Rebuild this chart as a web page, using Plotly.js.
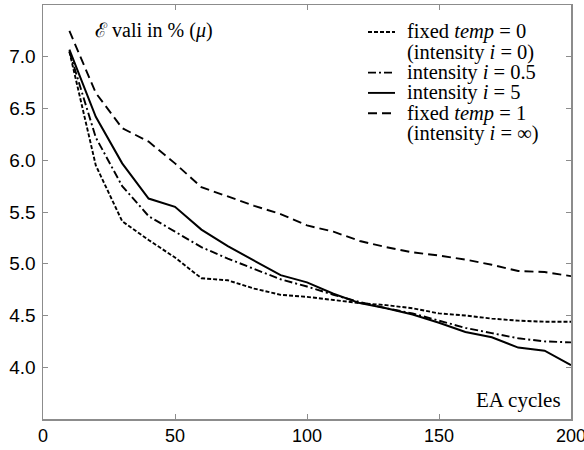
<!DOCTYPE html>
<html><head><meta charset="utf-8">
<script src="https://cdn.plot.ly/plotly-3.0.1.min.js"></script>
<style>html,body{margin:0;padding:0;background:#fff}</style>
</head><body><div id="chart" style="width:584px;height:450px"></div>
<script>
const cycles = [10,20,30,40,50,60,70,80,90,100,110,120,130,140,150,160,170,180,190,200];
const temp0 = [7.05,5.95,5.41,5.23,5.06,4.86,4.84,4.76,4.70,4.68,4.65,4.62,4.60,4.57,4.52,4.50,4.47,4.45,4.44,4.44];
const int05 = [7.05,6.22,5.75,5.46,5.31,5.16,5.05,4.95,4.85,4.78,4.70,4.63,4.57,4.52,4.45,4.38,4.33,4.28,4.25,4.24];
const int5  = [7.07,6.42,5.97,5.63,5.55,5.33,5.17,5.03,4.89,4.82,4.71,4.62,4.57,4.51,4.43,4.34,4.29,4.19,4.16,4.02];
const temp1 = [7.25,6.65,6.31,6.18,5.97,5.74,5.65,5.56,5.48,5.37,5.31,5.22,5.16,5.11,5.08,5.04,4.99,4.93,4.92,4.88];
const seriesNames = ["fixed <i>temp</i> = 0","intensity <i>i</i> = 0.5","intensity <i>i</i> = 5","fixed <i>temp</i> = 1"];
const seriesSub = ["(intensity <i>i</i> = 0)", null, null, "(intensity <i>i</i> = ∞)"];
const dashes = ["4px,2px","8px,3px,2px,3px","solid","9px,5px"];
const xTicks = [0,50,100,150,200];
const yTicks = [4.0,4.5,5.0,5.5,6.0,6.5,7.0];
const yTickText = ["4.0","4.5","5.0","5.5","6.0","6.5","7.0"];
const titleText = "ℰ vali in % (<i>μ</i>)";
const xLabel = "EA cycles";

const ys = [temp0,int05,int5,temp1];
const traces = ys.map((y,i)=>({x:cycles,y:y,type:'scatter',mode:'lines',name:seriesNames[i],
  line:{color:'#000',width:i===2?2:1.9,dash:dashes[i]},showlegend:false,cliponaxis:false}));

const serif = "Liberation Serif, Times New Roman, serif";
const toPx = v => (v-43)/528, toPy = v => (419-v)/414;
const annotations = [
  {xref:'paper',yref:'paper',x:toPx(93),y:toPy(31),xanchor:'left',yanchor:'middle',text:titleText,showarrow:false,font:{family:serif,size:20,color:'#000'}},
  {xref:'paper',yref:'paper',x:toPx(563),y:toPy(400),xanchor:'right',yanchor:'middle',text:xLabel,showarrow:false,font:{family:serif,size:21,color:'#000'}}
];
const shapes = [];
let rowY = 32; const rowH = 20.3;
const lx0 = 368, lx1 = 395, tx = 405;
for (let i=0;i<4;i++){
  shapes.push({type:'line',xref:'paper',yref:'paper',x0:toPx(lx0),x1:toPx(lx1),y0:toPy(rowY),y1:toPy(rowY),
    line:{color:'#000',width:1.9,dash:dashes[i]}});
  annotations.push({xref:'paper',yref:'paper',x:toPx(tx),y:toPy(rowY),xanchor:'left',yanchor:'middle',showarrow:false,
    text:seriesNames[i],font:{family:serif,size:20.5,color:'#000'}});
  rowY += rowH;
  if (seriesSub[i]){
    annotations.push({xref:'paper',yref:'paper',x:toPx(tx),y:toPy(rowY),xanchor:'left',yanchor:'middle',showarrow:false,
      text:seriesSub[i],font:{family:serif,size:20.5,color:'#000'}});
    rowY += rowH;
  }
}

const axisCommon = {showline:true,mirror:'ticks',linecolor:'#8c8c8c',linewidth:1.5,ticks:'inside',ticklen:5,tickcolor:'#8c8c8c',tickwidth:1,
  showgrid:false,zeroline:false};
const layout = {
  width:584,height:450,margin:{l:43,r:13,t:5,b:31},paper_bgcolor:'#fff',plot_bgcolor:'#fff',
  xaxis:Object.assign({},axisCommon,{range:[0,200],tickvals:xTicks,ticklabelstandoff:0,ticklabeloverflow:'allow',
    tickfont:{family:'Liberation Sans, Arial, sans-serif',size:18,color:'#000'}}),
  yaxis:Object.assign({},axisCommon,{range:[3.5,7.5],tickvals:yTicks,ticktext:yTickText,ticklabelstandoff:2,
    tickfont:{family:'Liberation Sans, Arial, sans-serif',size:19,color:'#000'}}),
  annotations:annotations,shapes:shapes,showlegend:false
};
Plotly.newPlot('chart',traces,layout,{displayModeBar:false,staticPlot:true});
</script></body></html>
